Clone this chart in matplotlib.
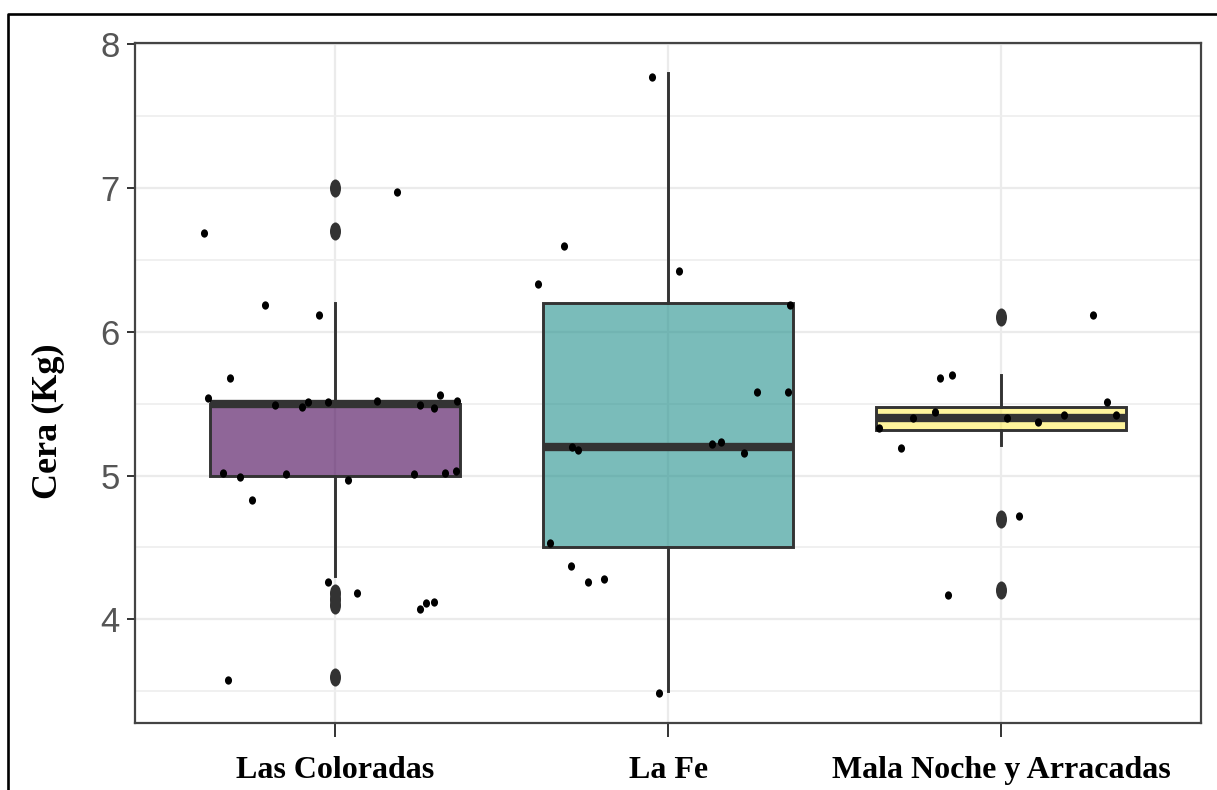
import numpy as np
import matplotlib
matplotlib.use("Agg")
import matplotlib.pyplot as plt
from matplotlib.path import Path
from matplotlib.transforms import Affine2D
from matplotlib.lines import Line2D
from matplotlib.ticker import MultipleLocator, FixedLocator

# --- data ------------------------------------------------------------------
categories = ["Las Coloradas", "La Fe", "Mala Noche y Arracadas"]
q1 = [5.0, 4.5, 5.32]
medians = [5.5, 5.2, 5.40]
q3 = [5.5, 6.2, 5.48]
whisk_lo = [4.3, 3.5, 5.21]
whisk_hi = [6.2, 7.8, 5.70]
outliers = [
    [7.0, 6.7, 4.18, 4.14, 4.10, 3.6],
    [],
    [6.1, 4.7, 4.2],
]
box_colors = ["#440154", "#21908C", "#FDE725"]
box_alpha = [0.6, 0.6, 0.45]

# jittered observations (horizontal offset from category centre, value)
lc_dx = [-0.393, 0.186, -0.21, -0.048, -0.315, -0.38, -0.18, -0.10, -0.08,
         -0.02, 0.126, 0.255, 0.297, 0.315, 0.366, -0.336, -0.285, -0.147,
         0.04, 0.237, 0.33, 0.363, -0.25, -0.02, 0.066, 0.255, 0.273, 0.297,
         -0.32]
lc_val = [6.69, 6.97, 6.19, 6.12, 5.68, 5.54, 5.49, 5.48, 5.51,
          5.51, 5.52, 5.49, 5.47, 5.56, 5.52, 5.02, 4.99, 5.01,
          4.97, 5.01, 5.02, 5.03, 4.83, 4.26, 4.18, 4.07, 4.11, 4.12,
          3.58]
lf_dx = [-0.047, -0.314, -0.392, 0.034, 0.367, 0.268, 0.361, -0.29, -0.272,
         0.133, 0.16, 0.229, -0.356, -0.293, -0.242, -0.194, -0.026]
lf_val = [7.77, 6.60, 6.33, 6.42, 6.19, 5.58, 5.58, 5.20, 5.18,
          5.22, 5.23, 5.16, 4.53, 4.37, 4.26, 4.28, 3.49]
mn_dx = [0.276, -0.183, -0.147, 0.318, -0.198, -0.264, -0.366, 0.018, 0.111,
         0.189, 0.345, -0.30, 0.054, -0.159]
mn_val = [6.12, 5.68, 5.70, 5.51, 5.44, 5.40, 5.33, 5.40, 5.37,
          5.42, 5.42, 5.19, 4.72, 4.17]
jitter_dx = [lc_dx, lf_dx, mn_dx]
jitter_val = [lc_val, lf_val, mn_val]

y_ticks = [4, 5, 6, 7, 8]

# --- figure ------------------------------------------------------------------
fig = plt.figure(figsize=(12.17, 7.90), dpi=100)
ax = fig.add_axes([0.111, 0.0852, 0.876, 0.8604])

# oval markers (the reference is a bit stretched vertically)
circle = Path.unit_circle()
oval_big = Affine2D().scale(0.61, 1.0).transform_path(circle)
oval_small = Affine2D().scale(0.85, 1.0).transform_path(circle)

positions = np.arange(1, len(categories) + 1)
stats = []
for i, name in enumerate(categories):
    stats.append(dict(label=name, med=medians[i], q1=q1[i], q3=q3[i],
                      whislo=whisk_lo[i], whishi=whisk_hi[i],
                      fliers=outliers[i]))

bp = ax.bxp(stats, positions=positions, widths=0.75, patch_artist=True,
            showcaps=False,
            boxprops=dict(edgecolor="#333333", linewidth=2.1),
            whiskerprops=dict(color="#333333", linewidth=2.1),
            medianprops=dict(color="#333333", linewidth=6,
                             solid_capstyle="butt"),
            flierprops=dict(marker=oval_big, markerfacecolor="#333333",
                            markeredgecolor="none", markersize=13))
for patch, col, a in zip(bp["boxes"], box_colors, box_alpha):
    rgb = matplotlib.colors.to_rgb(col)
    patch.set_facecolor((*rgb, a))

for pos, dx, vals in zip(positions, jitter_dx, jitter_val):
    ax.plot(pos + np.array(dx), vals, linestyle="none", marker=oval_small,
            markersize=6, markerfacecolor="black", markeredgecolor="none",
            zorder=5)

# axes styling (ggplot theme_bw look)
ax.set_xlim(0.4, 3.6)
ax.set_ylim(3.28, 8.01)
ax.yaxis.set_major_locator(FixedLocator(y_ticks))
ax.yaxis.set_minor_locator(MultipleLocator(0.5))
ax.set_xticks(positions)
ax.set_xticklabels(categories)
ax.set_axisbelow(True)
ax.grid(True, which="major", color="#EBEBEB", linewidth=1.6)
ax.grid(True, which="minor", axis="y", color="#EEEEEE", linewidth=1.2)
for sp in ax.spines.values():
    sp.set_color("#444444")
    sp.set_linewidth(1.6)

ax.tick_params(axis="y", which="major", length=6, width=1.4, color="#333333",
               pad=5, labelsize=25, labelcolor="#555555")
ax.tick_params(axis="x", which="major", length=10, width=1.4, color="#333333",
               pad=14)
ax.tick_params(which="minor", length=0)
for lab in ax.get_yticklabels():
    lab.set_family(["Liberation Sans Narrow", "Liberation Sans", "DejaVu Sans"])
for lab in ax.get_xticklabels():
    lab.set_family(["Liberation Serif", "DejaVu Serif"])
    lab.set_fontweight("bold")
    lab.set_fontsize(23)
    lab.set_color("black")

ax.set_ylabel("Cera (Kg)", family=["Liberation Serif", "DejaVu Serif"],
              fontweight="bold", fontsize=26, color="black")
ax.yaxis.set_label_coords(-0.0657, 0.443)

# outer frame (left and top edges visible in the reference)
fx = 8 / 1217
fy = 1 - 13.5 / 790
fig.add_artist(Line2D([fx, fx, 1.01], [-0.01, fy, fy], transform=fig.transFigure,
                      color="black", linewidth=1.9))

fig.savefig("out.png", dpi=100)
